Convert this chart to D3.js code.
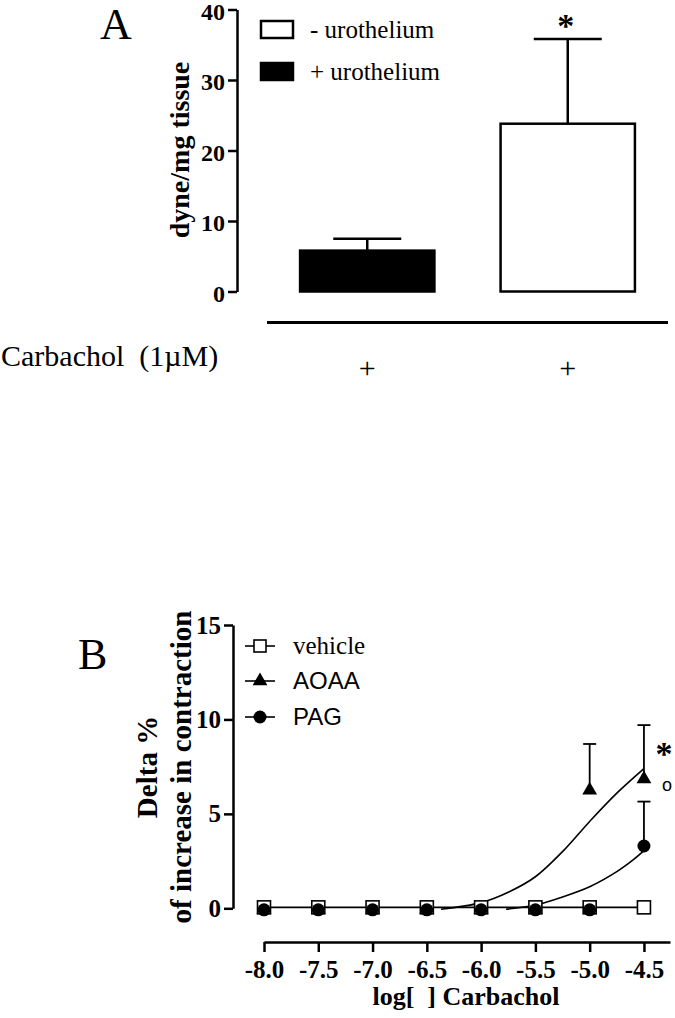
<!DOCTYPE html>
<html>
<head>
<meta charset="utf-8">
<script src="https://cdn.jsdelivr.net/npm/d3@7"></script>
<style>
  body { margin: 0; background: #fff; }
  svg { display: block; }
</style>
</head>
<body>
<div class="canvas"></div>
<script>
// panel A: contraction to carbachol, with / without urothelium
const groupsA = ["+ urothelium", "- urothelium"];
const meansA = [5.8, 23.8];
const semA = [1.7, 12.0];
const fillsA = ["#000", "#fff"];
const ticksA = [0, 10, 20, 30, 40];
const rowMarks = ["+", "+"];

// panel B: concentration-response
const logConc = [-8.0, -7.5, -7.0, -6.5, -6.0, -5.5, -5.0, -4.5];
const vehicle = [0.05, 0.05, 0.05, 0.05, 0.05, 0.05, 0.05, 0.05];
const aoaa = [0, 0, 0, 0, 0, 0, 6.3, 6.9];
const aoaaSem = [0, 0, 0, 0, 0, 0, 2.4, 2.8];
const pag = [-0.08, -0.08, -0.08, -0.08, -0.08, -0.08, -0.08, 3.3];
const pagSem = [0, 0, 0, 0, 0, 0, 0, 2.35];
// fitted curves
const aoaaFitX = [-6.37, -6.0, -5.75, -5.5, -5.25, -5.0, -4.75, -4.5];
const aoaaFitY = [-0.05, 0.3, 0.85, 1.67, 3.0, 4.6, 6.1, 7.4];
const pagFitX = [-5.77, -5.5, -5.25, -5.0, -4.75, -4.6, -4.5];
const pagFitY = [-0.05, 0.17, 0.6, 1.14, 1.94, 2.56, 3.05];
const ticksBx = [-8.0, -7.5, -7.0, -6.5, -6.0, -5.5, -5.0, -4.5];
const ticksBy = [0, 5, 10, 15];
const legendB = ["vehicle", "AOAA", "PAG"];

const serif = "'Liberation Serif', 'DejaVu Serif', serif";
const sans = "'Liberation Sans', Arial, sans-serif";

const svg = d3.select(".canvas").append("svg")
  .attr("width", 675).attr("height", 1018);

// ---------- A ----------
let yA = d3.scaleLinear().domain([0, 40]).range([291.5, 9.5]);
let xA = d3.scaleBand().domain(groupsA).range([267, 668])
  .paddingInner(0.33).paddingOuter(0.165);

let axA = svg.append("g").attr("transform", "translate(237,0)")
  .call(d3.axisLeft(yA).tickValues(ticksA).tickSize(9).tickSizeOuter(0).tickPadding(3));
axA.attr("font-family", serif).attr("font-size", 24).attr("font-weight", "bold");
axA.selectAll("path, line").attr("stroke-width", 2.5);
axA.selectAll(".tick text").attr("dy", "0.4em");

svg.append("text").attr("font-family", serif).attr("font-size", 44)
  .attr("x", 100).attr("y", 39).text("A");

svg.append("text").attr("font-family", serif).attr("font-size", 28).attr("font-weight", "bold")
  .attr("text-anchor", "middle")
  .attr("transform", "translate(189,150) rotate(-90)")
  .text("dyne/mg tissue");

// error bars (upper only), drawn under bars
let errA = svg.append("g").attr("stroke", "#000").attr("stroke-width", 2.5);
groupsA.forEach((g, i) => {
  let cx = xA(g) + xA.bandwidth() / 2;
  let top = yA(meansA[i] + semA[i]);
  errA.append("line").attr("x1", cx).attr("x2", cx)
    .attr("y1", yA(meansA[i])).attr("y2", top);
  errA.append("line").attr("x1", cx - 34).attr("x2", cx + 34)
    .attr("y1", top).attr("y2", top);
});

svg.selectAll("rect.bar").data(groupsA).join("rect")
  .attr("class", "bar")
  .attr("x", (d) => xA(d))
  .attr("width", xA.bandwidth())
  .attr("y", (d, i) => yA(meansA[i]))
  .attr("height", (d, i) => yA(0) - yA(meansA[i]))
  .attr("fill", (d, i) => fillsA[i])
  .attr("stroke", "#000").attr("stroke-width", 2.5);

svg.append("text").attr("font-family", serif).attr("font-size", 34).attr("font-weight", "bold")
  .attr("text-anchor", "middle")
  .attr("x", xA(groupsA[1]) + xA.bandwidth() / 2 - 2)
  .attr("y", yA(meansA[1] + semA[1]) - 2)
  .text("*");

// legend A (white first, then black)
[1, 0].forEach((gi, k) => {
  svg.append("rect").attr("x", 261).attr("y", 21 + k * 42).attr("width", 32).attr("height", 17)
    .attr("fill", fillsA[gi]).attr("stroke", "#000").attr("stroke-width", 2.5);
  svg.append("text").attr("font-family", serif).attr("font-size", 25)
    .attr("x", 310).attr("y", 38 + k * 42).text(groupsA[gi]);
});

svg.append("line").attr("x1", 267).attr("x2", 668).attr("y1", 322.5).attr("y2", 322.5)
  .attr("stroke", "#000").attr("stroke-width", 3);

svg.append("text").attr("font-family", serif).attr("font-size", 30)
  .attr("x", 1).attr("y", 366).attr("xml:space", "preserve")
  .text("Carbachol  (1\u00b5M)");

svg.selectAll("text.plus").data(groupsA).join("text")
  .attr("class", "plus")
  .attr("font-family", serif).attr("font-size", 30).attr("text-anchor", "middle")
  .attr("x", (d) => xA(d) + xA.bandwidth() / 2)
  .attr("y", 378)
  .text((d, i) => rowMarks[i]);

// ---------- B ----------
let xB = d3.scaleLinear().domain([-8, -4.26]).range([264, 670]);
let yB = d3.scaleLinear().domain([0, 15]).range([908.3, 625]);

let axBy = svg.append("g").attr("transform", "translate(233,0)")
  .call(d3.axisLeft(yB).tickValues(ticksBy).tickSize(9).tickSizeOuter(0).tickPadding(3));
axBy.attr("font-family", serif).attr("font-size", 25).attr("font-weight", "bold");
axBy.selectAll("path, line").attr("stroke-width", 2.5);

let axBx = svg.append("g").attr("transform", "translate(0,942)")
  .call(d3.axisBottom(xB).tickValues(ticksBx).tickSize(10).tickSizeOuter(0).tickPadding(8)
    .tickFormat((d) => d.toFixed(1)));
axBx.attr("font-family", serif).attr("font-size", 25).attr("font-weight", "bold");
axBx.selectAll("path, line").attr("stroke-width", 2.5);

svg.append("text").attr("font-family", serif).attr("font-size", 26).attr("font-weight", "bold")
  .attr("text-anchor", "middle").attr("xml:space", "preserve")
  .attr("x", 466).attr("y", 1005).text("log[  ] Carbachol");

svg.append("text").attr("font-family", serif).attr("font-size", 44)
  .attr("x", 78).attr("y", 669).text("B");

let ylabB = svg.append("text").attr("font-family", serif).attr("font-size", 29).attr("font-weight", "bold")
  .attr("text-anchor", "middle")
  .attr("transform", "translate(157,767) rotate(-90)");
ylabB.append("tspan").attr("x", 0).attr("y", 0).text("Delta %");
ylabB.append("tspan").attr("x", 0).attr("y", 34).text("of increase in contraction");

let line = d3.line().x((d) => xB(d[0])).y((d) => yB(d[1]));
let fitLine = d3.line().curve(d3.curveCatmullRom.alpha(0.5)).x((d) => xB(d[0])).y((d) => yB(d[1]));

svg.append("path").attr("d", fitLine(d3.zip(aoaaFitX, aoaaFitY)))
  .attr("fill", "none").attr("stroke", "#000").attr("stroke-width", 1.6);
svg.append("path").attr("d", fitLine(d3.zip(pagFitX, pagFitY)))
  .attr("fill", "none").attr("stroke", "#000").attr("stroke-width", 1.6);
svg.append("path").attr("d", line(d3.zip(logConc, vehicle)))
  .attr("fill", "none").attr("stroke", "#000").attr("stroke-width", 1.6);

// error bars B
let errB = svg.append("g").attr("stroke", "#000").attr("stroke-width", 1.8);
let addErr = (vals, sems) => {
  vals.forEach((v, i) => {
    if (!sems[i]) return;
    let cx = xB(logConc[i]);
    let top = yB(v + sems[i]);
    errB.append("line").attr("x1", cx).attr("x2", cx).attr("y1", yB(v)).attr("y2", top);
    errB.append("line").attr("x1", cx - 6.5).attr("x2", cx + 6.5).attr("y1", top).attr("y2", top);
  });
};
addErr(aoaa, aoaaSem);
addErr(pag, pagSem);

let tri = d3.symbol().type(d3.symbolTriangle).size(95);

svg.selectAll("path.tri").data(aoaa).join("path")
  .attr("class", "tri")
  .attr("d", tri)
  .attr("transform", (d, i) => `translate(${xB(logConc[i])},${yB(d) + 1})`)
  .attr("fill", "#000");

svg.selectAll("rect.sq").data(vehicle).join("rect")
  .attr("class", "sq")
  .attr("x", (d, i) => xB(logConc[i]) - 6.5)
  .attr("y", (d) => yB(d) - 6.5)
  .attr("width", 13).attr("height", 13)
  .attr("fill", "#fff").attr("stroke", "#000").attr("stroke-width", 1.6);

svg.selectAll("circle.pag").data(pag).join("circle")
  .attr("class", "pag")
  .attr("cx", (d, i) => xB(logConc[i]))
  .attr("cy", (d) => yB(d))
  .attr("r", 6.5)
  .attr("fill", "#000");

// significance marks next to the top dose
let lastX = xB(logConc[7]);
svg.append("text").attr("font-family", serif).attr("font-size", 34).attr("font-weight", "bold")
  .attr("text-anchor", "middle")
  .attr("x", lastX + 20).attr("y", yB(aoaa[7] + aoaaSem[7]) + 40).text("*");
svg.append("text").attr("font-family", sans).attr("font-size", 18)
  .attr("text-anchor", "middle")
  .attr("x", lastX + 23).attr("y", yB(aoaa[7]) + 13).text("o");

// legend B
let legY = [646, 681, 717];
let legG = svg.append("g");
legendB.forEach((name, k) => {
  legG.append("line").attr("x1", 245).attr("x2", 275).attr("y1", legY[k]).attr("y2", legY[k])
    .attr("stroke", "#000").attr("stroke-width", 1.6);
  if (k === 0) {
    legG.append("rect").attr("x", 254).attr("y", legY[k] - 6).attr("width", 12).attr("height", 12)
      .attr("fill", "#fff").attr("stroke", "#000").attr("stroke-width", 1.6);
  } else if (k === 1) {
    legG.append("path").attr("d", tri).attr("transform", `translate(260,${legY[k]})`).attr("fill", "#000");
  } else {
    legG.append("circle").attr("cx", 260).attr("cy", legY[k]).attr("r", 6.5).attr("fill", "#000");
  }
  legG.append("text").attr("font-family", k === 0 ? serif : sans).attr("font-size", k === 0 ? 25 : 24)
    .attr("x", 293).attr("y", legY[k] + 8).text(name);
});
</script>
</body>
</html>
